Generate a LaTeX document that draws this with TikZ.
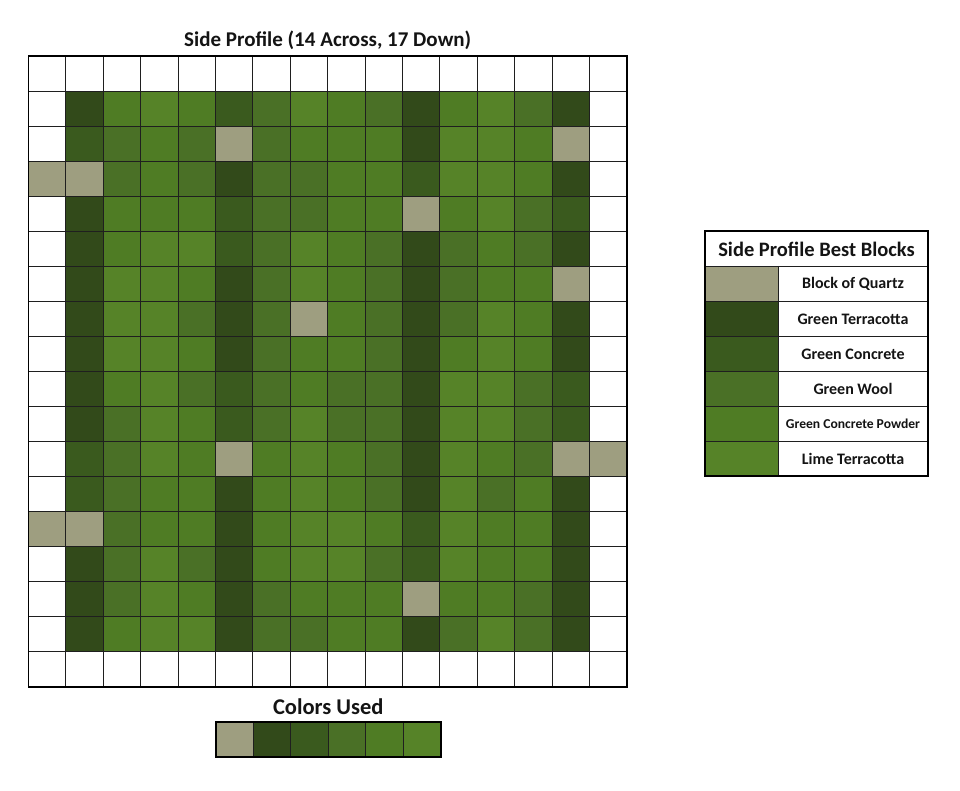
\documentclass[tikz,border=0pt]{standalone}
\usepackage{fontspec}
\setmainfont{Carlito}
\definecolor{cE}{HTML}{FFFFFF}
\definecolor{cQ}{HTML}{9E9E80}
\definecolor{cT}{HTML}{324A1A}
\definecolor{cC}{HTML}{3A5A1E}
\definecolor{cW}{HTML}{4A7026}
\definecolor{cP}{HTML}{4F7C24}
\definecolor{cL}{HTML}{568328}
\definecolor{txt}{HTML}{141414}
\begin{document}
\begin{tikzpicture}[x=1pt,y=-1pt,
  thinline/.style={draw=black!88,line width=0.9pt},
  outerline/.style={draw=black,line width=1.8pt},
  bigtitle/.style={font=\bfseries\fontsize{21}{25}\selectfont,text=txt,inner sep=0pt},
  legtext/.style={font=\bfseries\fontsize{16}{19}\selectfont,text=txt,inner sep=0pt},
  legsmall/.style={font=\bfseries\fontsize{13.6}{16}\selectfont,text=txt,inner sep=0pt}]
\useasboundingbox[fill=white] (0,0) rectangle (960,791);
\def\cw{37.4}
\def\rh{35.04}
% ---- main grid cells ----
\foreach \row [count=\r from 0] in {
 {E,E,E,E,E,E,E,E,E,E,E,E,E,E,E,E},
 {E,T,P,L,P,C,W,L,P,W,T,P,L,W,T,E},
 {E,C,W,P,W,Q,W,P,P,P,T,L,L,P,Q,E},
 {Q,Q,W,P,W,T,W,W,P,P,C,L,L,P,T,E},
 {E,T,P,P,P,C,W,W,P,P,Q,P,L,W,C,E},
 {E,T,P,L,L,C,W,L,P,W,T,W,P,W,T,E},
 {E,T,L,L,P,T,W,L,P,W,T,W,P,P,Q,E},
 {E,T,L,L,W,T,W,Q,P,W,T,W,L,P,T,E},
 {E,T,L,L,P,T,W,P,P,W,T,P,L,P,T,E},
 {E,T,P,L,W,C,W,P,W,W,T,L,L,W,C,E},
 {E,T,W,L,P,C,W,L,W,W,T,L,L,W,C,E},
 {E,C,W,L,P,Q,P,L,P,W,T,L,P,W,Q,Q},
 {E,C,W,P,P,T,P,L,P,W,T,L,W,P,T,E},
 {Q,Q,W,P,P,T,P,L,L,P,C,L,P,P,T,E},
 {E,T,W,L,W,T,P,L,L,W,C,L,P,P,T,E},
 {E,T,W,L,P,T,W,P,P,P,Q,P,P,W,T,E},
 {E,T,P,L,L,T,W,W,P,P,T,W,L,W,T,E},
 {E,E,E,E,E,E,E,E,E,E,E,E,E,E,E,E}}{
  \foreach \c [count=\k from 0] in \row {
    \fill[c\c] ({28.5+\k*\cw},{56+\r*\rh}) rectangle ++(\cw,\rh);
  }
}
\foreach \k in {1,...,15}{
  \draw[thinline] ({28.5+\k*\cw},56) -- ({28.5+\k*\cw},{56+18*\rh});
}
\foreach \r in {1,...,17}{
  \draw[thinline] (28.5,{56+\r*\rh}) -- ({28.5+16*\cw},{56+\r*\rh});
}
\draw[outerline] (28.5,56) rectangle ({28.5+16*\cw},{56+18*\rh});
\node[bigtitle] (title) at (327.7,40) {Side Profile (14 Across, 17 Down)};
% ---- colors used ----
\node[font=\bfseries\fontsize{22.5}{27}\selectfont,text=txt,inner sep=0pt] (colorsused) at (328.3,706.5) {Colors Used};
\foreach \c [count=\k from 0] in {Q,T,C,W,P,L}{
  \fill[c\c] ({216+\k*37.45},722) rectangle ++(37.45,35);
  \draw[thinline] ({216+\k*37.45},722) rectangle ++(37.45,35);
}
\draw[outerline] (216,722) rectangle (440.7,757);
% ---- legend ----
\node[font=\bfseries\fontsize{20.5}{24}\selectfont,text=txt,inner sep=0pt] (leghead) at (816.5,249) {Side Profile Best Blocks};
\foreach \c [count=\k from 0] in {Q,T,C,W,P,L}{
  \fill[c\c] (705,{266+\k*35}) rectangle ++(73,35);
  \draw[thinline] (705,{266+\k*35}) rectangle (928,{301+\k*35});
  \draw[thinline] (778,{266+\k*35}) -- (778,{301+\k*35});
}
\node[legtext] (lq) at (853,284) {Block of Quartz};
\node[legtext] (lt) at (853,319) {Green Terracotta};
\node[legtext] (lc) at (853,354) {Green Concrete};
\node[legtext] (lw) at (853,389) {Green Wool};
\node[legsmall] (lp) at (853,424) {Green Concrete Powder};
\node[legtext] (ll) at (853,459) {Lime Terracotta};
\draw[thinline] (705,266) -- (928,266);
\draw[outerline] (705,231) rectangle (928,476);
\end{tikzpicture}
\end{document}
